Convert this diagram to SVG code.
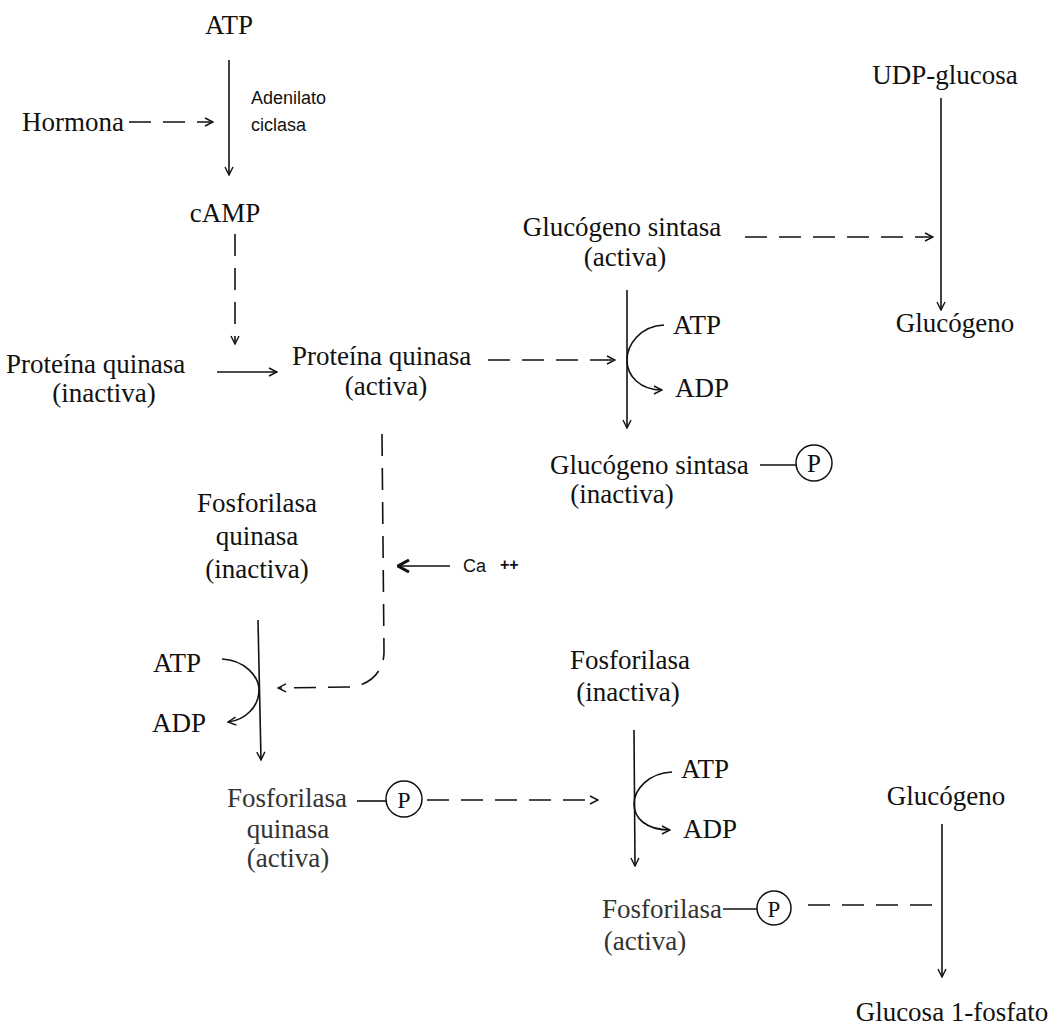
<svg xmlns="http://www.w3.org/2000/svg" width="1064" height="1033" viewBox="0 0 1064 1033">
  <defs>
    <marker id="open" viewBox="0 0 10 10" refX="9" refY="5" markerWidth="10" markerHeight="10" markerUnits="userSpaceOnUse" orient="auto">
      <path d="M1,1 L9,5 L1,9" fill="none" stroke="#111" stroke-width="1.4"/>
    </marker>
    <marker id="bold" viewBox="0 0 14 14" refX="13" refY="7" markerWidth="14" markerHeight="14" markerUnits="userSpaceOnUse" orient="auto">
      <path d="M2,1 L13,7 L2,13" fill="none" stroke="#111" stroke-width="3"/>
    </marker>
  </defs>
  <style>
    text { font-family: "Liberation Serif", "Times New Roman", serif; font-size: 27px; fill: #111; }
    .c { text-anchor: middle; }
    .sans { font-family: "Liberation Sans", Arial, sans-serif; font-size: 18px; }
    .light { fill: #333; }
    .ln { fill: none; stroke: #111; stroke-width: 1.6; }
    .dash { fill: none; stroke: #111; stroke-width: 1.6; stroke-dasharray: 22 12; }
    .circ { fill: #fff; stroke: #111; stroke-width: 1.5; }
  </style>
  <rect width="1064" height="1033" fill="#fff"/>

  <!-- connectors -->
  <g id="connectors">
    <!-- ATP to cAMP -->
    <line class="ln" x1="229" y1="60" x2="229" y2="175" marker-end="url(#open)"/>
    <!-- hormone activates adenylate cyclase -->
    <line class="dash" x1="129" y1="122" x2="213" y2="122" stroke-dasharray="20 8" marker-end="url(#open)"/>
    <!-- cAMP to protein kinase -->
    <line class="dash" x1="235" y1="234" x2="235" y2="344" marker-end="url(#open)"/>
    <!-- inactive to active protein kinase -->
    <line class="ln" x1="217" y1="372" x2="277" y2="372" marker-end="url(#open)"/>
    <!-- protein kinase acts on glycogen synthase -->
    <line class="dash" x1="488" y1="360" x2="615" y2="360" stroke-dasharray="10 14 22 12" marker-end="url(#open)"/>
    <!-- glycogen synthase acts on the UDP-glucose step -->
    <line class="dash" x1="745" y1="237" x2="933" y2="237" marker-end="url(#open)"/>
    <!-- UDP-glucose to glycogen -->
    <line class="ln" x1="941" y1="98" x2="941" y2="310" marker-end="url(#open)"/>
    <!-- glycogen synthase phosphorylation -->
    <line class="ln" x1="627" y1="290" x2="627" y2="428" marker-end="url(#open)"/>
    <path class="ln" d="M664,325 C640,326 627,345 627,360 C627,376 640,390 662,390" marker-end="url(#open)"/>
    <!-- protein kinase to phosphorylase kinase -->
    <path class="dash" d="M382,434 L384,652 C384,670 372,684 352,687 L278,688" marker-end="url(#open)"/>
    <!-- calcium -->
    <line class="ln" x1="450" y1="566" x2="398" y2="566" marker-end="url(#bold)"/>
    <!-- phosphorylase kinase phosphorylation -->
    <line class="ln" x1="258" y1="620" x2="261" y2="760" marker-end="url(#open)"/>
    <path class="ln" d="M222,659 C244,660 259,676 259,690 C259,706 246,720 228,722" marker-end="url(#open)"/>
    <!-- phosphorylase kinase acts on phosphorylase -->
    <line class="dash" x1="427" y1="800" x2="598" y2="800" marker-end="url(#open)"/>
    <!-- phosphorylase phosphorylation -->
    <line class="ln" x1="634" y1="730" x2="635" y2="866" marker-end="url(#open)"/>
    <path class="ln" d="M672,772 C648,773 634,790 634,804 C634,818 646,830 670,830" marker-end="url(#open)"/>
    <!-- phosphorylase acts on glycogen breakdown -->
    <line class="dash" x1="808" y1="905" x2="940" y2="905"/>
    <!-- glycogen to glucose 1-phosphate -->
    <line class="ln" x1="942" y1="824" x2="942" y2="977" marker-end="url(#open)"/>
  </g>

  <g id="atp-top"><text class="c" x="229" y="34">ATP</text></g>
  <g id="hormona"><text x="22" y="131">Hormona</text></g>
  <g id="adenilato-ciclasa">
    <text class="sans" x="251" y="104">Adenilato</text>
    <text class="sans" x="251" y="131">ciclasa</text>
  </g>
  <g id="camp"><text class="c" x="225" y="222">cAMP</text></g>

  <g id="pk-inactiva">
    <text x="6" y="373">Proteína quinasa</text>
    <text class="c" x="104" y="402">(inactiva)</text>
  </g>
  <g id="pk-activa">
    <text x="292" y="365">Proteína quinasa</text>
    <text class="c" x="386" y="395">(activa)</text>
  </g>

  <g id="gs-activa">
    <text class="c" x="622" y="236">Glucógeno sintasa</text>
    <text class="c" x="625" y="266">(activa)</text>
  </g>
  <g id="udp-glucosa"><text class="c" x="945" y="84">UDP-glucosa</text></g>
  <g id="glucogeno-1"><text class="c" x="955" y="332">Glucógeno</text></g>
  <g id="gs-atp-adp">
    <text x="673" y="334">ATP</text>
    <text x="675" y="397">ADP</text>
  </g>
  <g id="gs-inactiva">
    <text x="550" y="474">Glucógeno sintasa</text>
    <line class="ln" x1="760" y1="465" x2="796" y2="465"/>
    <circle class="circ" cx="814" cy="463" r="18"/>
    <text class="c" x="814" y="472" style="font-size:25px">P</text>
    <text class="c" x="622" y="503">(inactiva)</text>
  </g>

  <g id="fq-inactiva">
    <text class="c" x="257" y="512">Fosforilasa</text>
    <text class="c" x="257" y="545">quinasa</text>
    <text class="c" x="257" y="578">(inactiva)</text>
  </g>
  <g id="calcio">
    <text class="sans" x="463" y="572">Ca<tspan dx="14" dy="-2" font-size="16" font-weight="bold">++</tspan></text>
  </g>
  <g id="fq-atp-adp">
    <text x="153" y="672">ATP</text>
    <text x="152" y="732">ADP</text>
  </g>
  <g id="fq-activa">
    <text class="light" x="227" y="807">Fosforilasa</text>
    <line class="ln" x1="357" y1="801" x2="386" y2="801"/>
    <circle class="circ" cx="404" cy="799" r="18"/>
    <text class="c" x="404" y="808" style="font-size:24px">P</text>
    <text class="c light" x="288" y="838">quinasa</text>
    <text class="c light" x="288" y="867">(activa)</text>
  </g>

  <g id="f-inactiva">
    <text class="c" x="630" y="669">Fosforilasa</text>
    <text class="c" x="628" y="701">(inactiva)</text>
  </g>
  <g id="f-atp-adp">
    <text x="681" y="778">ATP</text>
    <text x="683" y="838">ADP</text>
  </g>
  <g id="f-activa">
    <text class="light" x="602" y="918">Fosforilasa</text>
    <line class="ln" x1="723" y1="909" x2="757" y2="909"/>
    <circle class="circ" cx="774" cy="908" r="17"/>
    <text class="c" x="774" y="917" style="font-size:23px">P</text>
    <text class="c light" x="645" y="950">(activa)</text>
  </g>
  <g id="glucogeno-2"><text class="c" x="946" y="805">Glucógeno</text></g>
  <g id="glucosa-1-fosfato"><text class="c" x="952" y="1021">Glucosa 1-fosfato</text></g>
</svg>
